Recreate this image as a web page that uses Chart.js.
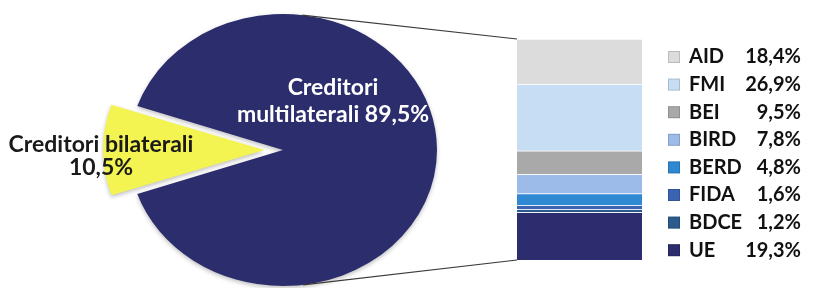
<!DOCTYPE html>
<html>
<head>
<meta charset="utf-8">
<script src="https://cdn.jsdelivr.net/npm/chart.js@4"></script>
<style>
  html, body { margin: 0; padding: 0; background: #fff; overflow: hidden; }
  #wrap { position: relative; width: 814px; height: 288px; }
  #wrap canvas { position: absolute; left: 0; top: 0; }
</style>
</head>
<body>
<div id="wrap">
  <canvas id="pie" width="814" height="288"></canvas>
  <canvas id="bar" width="814" height="288"></canvas>
</div>
<script>
// pie: the two creditor groups
var pieLabels = ["Creditori multilaterali", "Creditori bilaterali"];
var pieValues = [89.5, 10.5];
var pieColors = ["#2c2d6d", "#f3f352"];

// bar: split of the multilateral part (bottom to top)
var barLabels = ["UE", "BDCE", "FIDA", "BERD", "BIRD", "BEI", "FMI", "AID"];
var barValues = [19.3, 1.2, 1.6, 4.8, 7.8, 9.5, 26.9, 18.4];
var barColors = ["#2c2c6e", "#2a5b8c", "#3a63b2", "#2f88d2", "#9dbbe8", "#a9a9a9", "#c6ddf3", "#dcdcdc"];

var FONT = "Lato, 'Noto Sans', sans-serif";
var RX = 154, RY = 136;   // pie is drawn as an ellipse

function pct(v) {
  return v.toFixed(1).replace(".", ",") + "%";
}

var pieTotal = pieValues.reduce(function (a, b) { return a + b; }, 0);
var barTotal = barValues.reduce(function (a, b) { return a + b; }, 0);
// turn the pie so the small slice points left
var rot = 270 - (pieValues[0] + pieValues[1] / 2) / pieTotal * 360;

var stretch = {
  id: "stretch",
  beforeDatasetsDraw: function (chart) {
    var arc = chart.getDatasetMeta(0).data[0];
    var ctx = chart.ctx;
    ctx.save();
    ctx.translate(arc.x, arc.y);
    ctx.scale(RX / arc.outerRadius, RY / arc.outerRadius);
    ctx.translate(-arc.x, -arc.y);
    ctx.shadowColor = "rgba(0,0,0,0.25)";
    ctx.shadowBlur = 4;
    ctx.shadowOffsetY = 2;
  },
  afterDatasetsDraw: function (chart) {
    chart.ctx.restore();
  }
};

var pieText = {
  id: "pieText",
  afterDraw: function (chart) {
    var arc = chart.getDatasetMeta(0).data[0];
    var ctx = chart.ctx;
    var cx = arc.x, cy = arc.y;
    ctx.save();
    ctx.textAlign = "center";
    ctx.textBaseline = "middle";
    var w = pieLabels[0].split(" ");
    ctx.font = "bold 23px " + FONT;
    ctx.fillStyle = "#ffffff";
    ctx.fillText(w[0], cx + 50, cy - 62);
    ctx.fillText(w[1] + " " + pct(pieValues[0]), cx + 50, cy - 35);
    ctx.fillStyle = "#1a1a1a";
    ctx.fillText(pieLabels[1], cx - 182, cy - 5);
    ctx.fillText(pct(pieValues[1]), cx - 182, cy + 18);
    ctx.restore();
  }
};

var pieChart = new Chart("pie", {
  type: "pie",
  data: {
    labels: pieLabels,
    datasets: [{
      data: pieValues,
      backgroundColor: pieColors,
      borderWidth: 0,
      offset: [0, 54],
      hoverOffset: 0
    }]
  },
  options: {
    responsive: false,
    animation: false,
    events: [],
    rotation: rot,
    layout: { padding: { top: 12, bottom: 0, left: 140, right: 388 } },
    plugins: { legend: { display: false }, tooltip: { enabled: false } }
  },
  plugins: [stretch, pieText]
});

var legendBox = {
  id: "legendBox",
  afterDraw: function (chart) {
    var ctx = chart.ctx;
    ctx.save();
    ctx.font = "bold 20px " + FONT;
    ctx.textBaseline = "middle";
    var n = barLabels.length;
    for (var k = 0; k < n; k++) {
      var i = n - 1 - k;
      var y = 57 + k * 27.6;
      ctx.fillStyle = barColors[i];
      ctx.fillRect(668, y - 6, 12, 12);
      ctx.strokeStyle = "rgba(0,0,0,0.15)";
      ctx.strokeRect(668.5, y - 5.5, 11, 11);
      ctx.fillStyle = "#111111";
      ctx.textAlign = "left";
      ctx.fillText(barLabels[i], 689, y);
      ctx.textAlign = "right";
      ctx.fillText(pct(barValues[i]), 801, y);
    }
    ctx.restore();
  }
};

// lines from the pie to the bar, tangent to the ellipse
var joinLines = {
  id: "joinLines",
  afterDraw: function (chart) {
    var arc = pieChart.getDatasetMeta(0).data[0];
    var bottomBar = chart.getDatasetMeta(0).data[0];
    var topBar = chart.getDatasetMeta(barLabels.length - 1).data[0];
    var left = topBar.x - topBar.width / 2;
    var ends = [[left, topBar.y, -1], [left, bottomBar.base, 1]];
    var ctx = chart.ctx;
    ctx.save();
    ctx.strokeStyle = "#3a3a3a";
    ctx.lineWidth = 1.2;
    ends.forEach(function (e) {
      var u = (e[0] - arc.x) / RX, v = (e[1] - arc.y) / RY;
      var a = Math.atan2(v, u), d = Math.sqrt(u * u + v * v);
      var t = a + e[2] * Math.acos(1 / d);
      ctx.beginPath();
      ctx.moveTo(arc.x + RX * Math.cos(t), arc.y + RY * Math.sin(t));
      ctx.lineTo(e[0], e[1]);
      ctx.stroke();
    });
    ctx.restore();
  }
};

new Chart("bar", {
  type: "bar",
  data: {
    labels: [""],
    datasets: barLabels.map(function (l, i) {
      return {
        label: l,
        data: [barValues[i]],
        backgroundColor: barColors[i],
        borderColor: "rgba(255,255,255,0.6)",
        borderWidth: { top: 1, bottom: 0, left: 0, right: 0 },
        borderSkipped: false,
        barPercentage: 1,
        categoryPercentage: 1
      };
    })
  },
  options: {
    responsive: false,
    animation: false,
    events: [],
    layout: { padding: { left: 517, right: 172, top: 39, bottom: 28 } },
    scales: {
      x: { display: false, stacked: true },
      y: { display: false, stacked: true, min: 0, max: barTotal }
    },
    plugins: { legend: { display: false }, tooltip: { enabled: false } }
  },
  plugins: [legendBox, joinLines]
});
</script>
</body>
</html>
